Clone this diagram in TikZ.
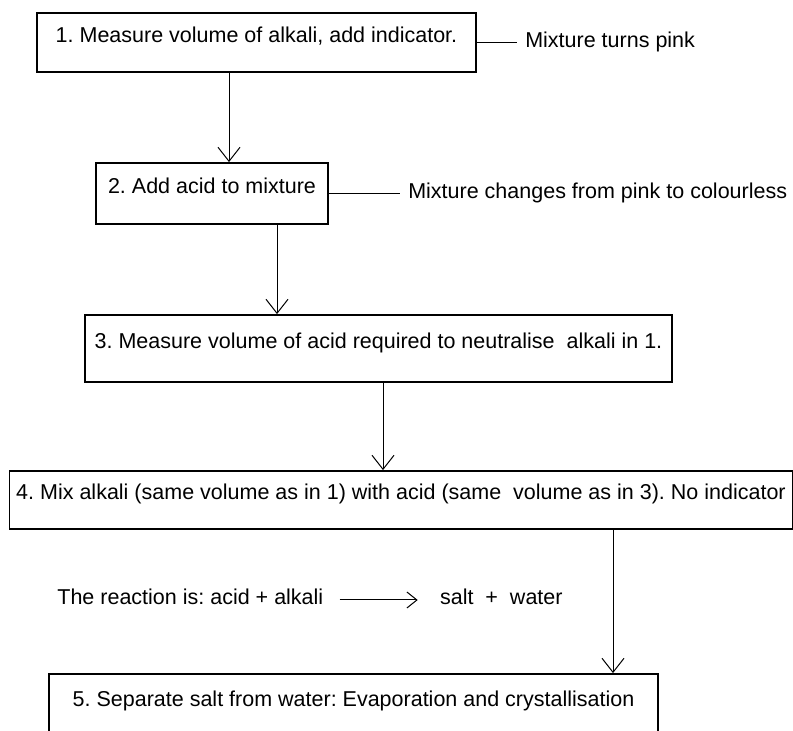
\documentclass[tikz,border=0pt]{standalone}
\usepackage{fontspec}
\setmainfont{Liberation Sans}
\usetikzlibrary{arrows.meta, positioning}
\frenchspacing

\begin{document}
\begin{tikzpicture}[x=0.5pt, y=-0.5pt,
	font=\fontsize{10.75pt}{13pt}\selectfont,
	box/.style={draw, line width=0.9pt, inner ysep=0pt, text height=1em, text depth=1em},
	note/.style={inner xsep=4pt, text height=0.75em, text depth=0.25em},
	arr/.style={-{Straight Barb[length=7pt, width=11pt]}, line width=0.5pt},
	>={Straight Barb[length=5pt, width=8pt]}]

	\useasboundingbox (0,0) rectangle (793,731);
	\clip (0,0) rectangle (793,731);

	\node[box, minimum width=219.5pt, minimum height=29.5pt] (1) at (256.5,42.5) {1. Measure volume of alkali, add indicator.};
	\node[box, minimum width=116pt, minimum height=30.5pt] (2) at (212,193.5) {2. Add acid to mixture};
	\node[box, minimum width=293.5pt, minimum height=33.5pt] (3) at (378.5,348.5) {3. Measure volume of acid required to neutralise\ \ alkali in 1.};
	\node[box, minimum width=391pt, minimum height=29pt] (4) at (401,500) {4. Mix alkali (same volume as in 1) with acid (same\ \ volume as in 3). No indicator};
	\node[box, minimum width=304.5pt, minimum height=33pt] (5) at (353.5,707) {5. Separate salt from water: Evaporation and crystallisation};

	\node[note, right=20pt of 1] (pink) {Mixture turns pink};
	\node[note, right=35.5pt of 2] (colourless) {Mixture changes from pink to colourless};
	\node[note, anchor=base west] (reaction) at (49,605) {The reaction is: acid + alkali};
	\node[note, right=50pt of reaction] (products) {salt\ \ +\ \ water};

	\draw[line width=0.5pt] (1) -- (pink) (2) -- (colourless);
	\draw[->, line width=0.5pt, shorten <=4pt, shorten >=7pt] (reaction) -- (products);

	\draw[arr] ([xshift=-13.75pt]1.south) -- ([xshift=-13.75pt]1.south |- 2.north);
	\draw[arr] ([xshift=32.5pt]2.south) -- ([xshift=32.5pt]2.south |- 3.north);
	\draw[arr] ([xshift=2.25pt]3.south) -- ([xshift=2.25pt]3.south |- 4.north);
	\draw[arr] ([xshift=106pt]4.south) -- ([xshift=106pt]4.south |- 5.north);

\end{tikzpicture}
\end{document}
